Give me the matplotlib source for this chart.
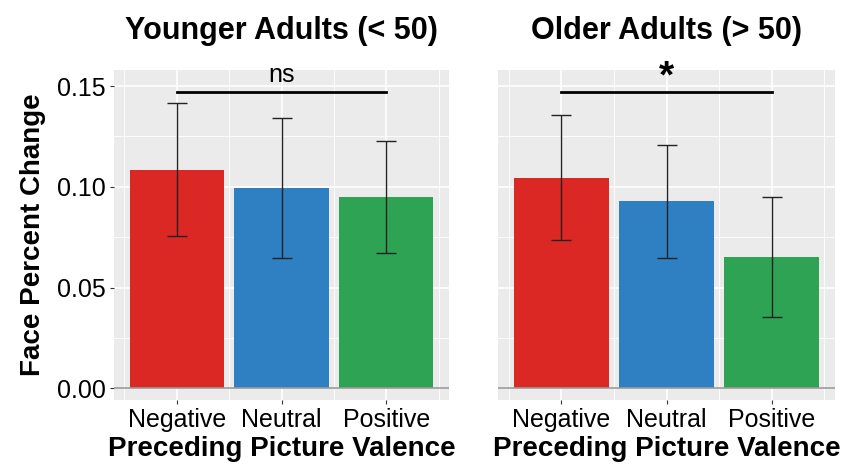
import matplotlib
matplotlib.use("Agg")
import matplotlib.pyplot as plt
import numpy as np

# valeurs
conditions = ["Negative", "Neutral", "Positive"]
colors = ["#DC2824", "#2E80C2", "#2EA353"]

young_mean = [0.1082, 0.0994, 0.0950]
young_low = [0.0754, 0.0646, 0.0671]
young_high = [0.1415, 0.1343, 0.1230]

old_mean = [0.1044, 0.0928, 0.0651]
old_low = [0.0737, 0.0646, 0.0355]
old_high = [0.1355, 0.1210, 0.0950]

titles = ["Younger Adults (< 50)", "Older Adults (> 50)"]
signif = ["ns", "*"]
sig_y = 0.1472

plt.rcParams['font.family'] = ['Liberation Sans', 'DejaVu Sans']

fig = plt.figure(figsize=(8.42, 4.68), dpi=100)
W, H = 842, 468
ax1 = fig.add_axes([114 / W, 68 / H, 335 / W, 330 / H])
ax2 = fig.add_axes([498 / W, 68 / H, 337 / W, 330 / H])

data = [(young_mean, young_low, young_high), (old_mean, old_low, old_high)]
x = np.arange(len(conditions))

for k, ax in enumerate([ax1, ax2]):
    m, lo, hi = data[k]
    ax.set_facecolor("#EBEBEB")
    ax.set_xlim(-0.6, 2.6)
    ax.set_ylim(-0.0058, 0.158)
    # grille style ggplot
    for yy in np.arange(0.025, 0.16, 0.05):
        ax.axhline(yy, color="white", lw=0.6, zorder=0)
    for yy in np.arange(0, 0.16, 0.05):
        ax.axhline(yy, color="white", lw=1.2, zorder=0)
    for xx in x:
        ax.axvline(xx, color="white", lw=1.2, zorder=0)
    for xx in [-0.5, 0.5, 1.5, 2.5]:
        ax.axvline(xx, color="white", lw=0.6, zorder=0)

    ax.bar(x, m, width=0.9, color=colors, zorder=2)
    m = np.array(m)
    yerr = [m - np.array(lo), np.array(hi) - m]
    ax.errorbar(x, m, yerr=yerr, fmt="none", ecolor="#222222", elinewidth=1.0,
                capsize=7.5, capthick=1.0, zorder=3)
    ax.axhline(0, color="#999999", lw=1.2, zorder=2)

    ax.plot([x[0], x[2]], [sig_y, sig_y], color="black", lw=2, zorder=3)
    if signif[k] == "ns":
        ax.text(1, sig_y + 0.0025, "ns", ha="center", va="bottom", fontsize=18)
    else:
        ax.text(1, sig_y - 0.002, "*", ha="center", va="bottom", fontsize=28,
                fontweight="bold")

    for s in ax.spines.values():
        s.set_visible(False)
    ax.set_xticks(x)
    ax.set_xticklabels(conditions, fontsize=18)
    ax.tick_params(axis="both", length=3, color="#333333", pad=3)
    ax.set_yticks([0, 0.05, 0.10, 0.15])
    ax.set_title(titles[k], fontsize=22, fontweight="bold", pad=22)
    ax.set_xlabel("Preceding Picture Valence", fontsize=20, fontweight="bold",
                  labelpad=3)

ax1.set_yticklabels(["0.00", "0.05", "0.10", "0.15"], fontsize=18)
ax1.set_ylabel("Face Percent Change", fontsize=20, fontweight="bold", labelpad=8)
ax2.set_yticklabels([])
ax2.tick_params(axis="y", length=0)

fig.savefig("out.png", dpi=100)
